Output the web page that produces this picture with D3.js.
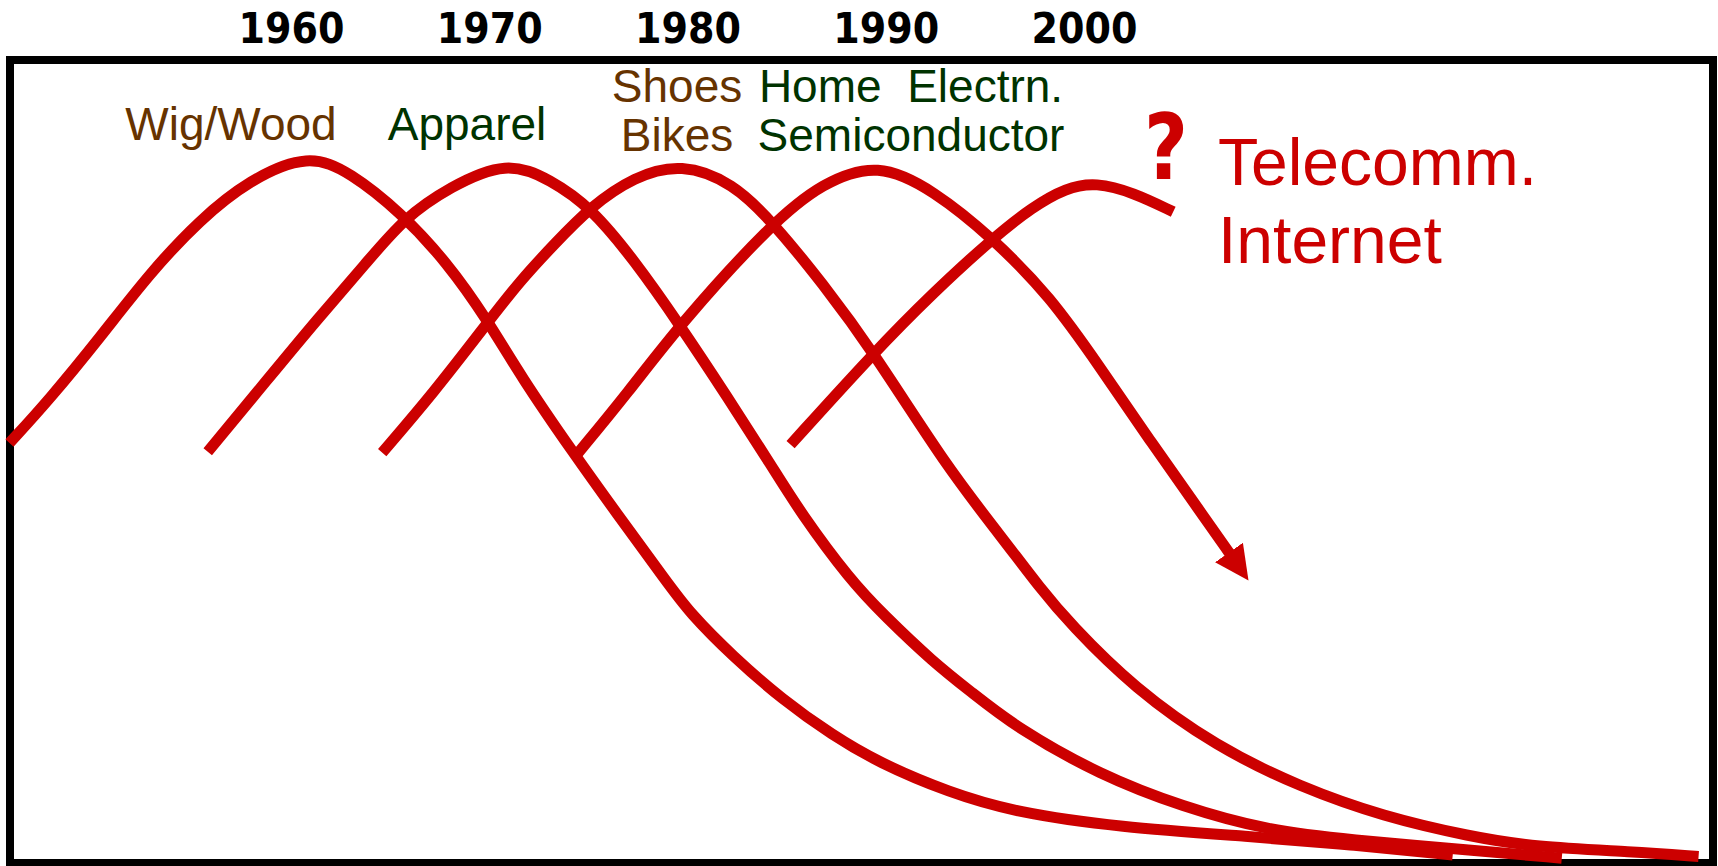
<!DOCTYPE html>
<html>
<head>
<meta charset="utf-8">
<script src="https://cdn.jsdelivr.net/npm/d3@7"></script>
<style>
  html, body { margin: 0; padding: 0; background: #fff; }
  svg { display: block; }
</style>
</head>
<body>
<script>
// decade ticks along the top
const years = [1960, 1970, 1980, 1990, 2000];

// industry life cycles, [year, relative share]
const wigWood = [[1945.8,52.5],[1947.8,57.9],[1950.4,65.8],[1952.9,73.8],[1955.4,80.4],[1957.9,85.4],[1960.9,88.7],[1963.0,86.3],[1965.5,81.4],[1967.9,75.0],[1969.9,67.9],[1971.6,60.8],[1974.2,51.4],[1976.4,43.8],[1979.0,35.0],[1980.1,31.3],[1982.3,25.8],[1984.8,20.4],[1987.3,16.0],[1989.6,12.6],[1993.2,8.8],[1996.6,6.3],[2001.7,4.5],[2008.4,3.3],[2013.4,2.3],[2018.6,1.0]];
const apparel = [[1955.8,51.4],[1958.8,60.4],[1961.3,67.9],[1963.8,75.0],[1965.7,80.6],[1968.0,84.5],[1970.9,87.8],[1973.1,85.4],[1975.1,82.0],[1977.3,75.4],[1979.6,67.3],[1982.0,58.3],[1984.3,49.4],[1985.7,43.8],[1988.2,35.4],[1989.9,31.0],[1992.4,25.1],[1994.3,21.4],[1996.6,16.9],[2000.8,11.0],[2005.0,7.0],[2009.2,4.1],[2013.4,2.9],[2019.5,1.6],[2024.1,0.6]];
const shoesBikes = [[1964.6,51.3],[1967.2,58.8],[1969.9,67.5],[1971.6,72.9],[1973.3,77.4],[1975.1,82.0],[1977.3,85.8],[1979.7,87.5],[1982.3,85.0],[1984.3,80.1],[1986.8,72.5],[1989.4,63.8],[1993.1,49.4],[1995.8,40.9],[1997.8,34.3],[1999.3,29.9],[2002.5,21.9],[2006.7,14.5],[2010.9,9.5],[2015.1,5.8],[2019.5,3.3],[2022.7,2.0],[2027.7,1.4],[2031.0,0.8]];
const homeElec = [[1974.4,51.0],[1977.0,58.8],[1979.6,67.3],[1984.3,80.1],[1986.8,85.0],[1989.6,87.6],[1992.4,84.1],[1995.4,78.1],[1998.3,70.8],[2000.8,62.0],[2003.3,52.9],[2005.9,43.8],[2007.4,38.5]];
const telecom = [[1985.2,52.3],[1989.4,63.8],[1992.4,71.3],[1995.4,78.1],[1997.4,82.0],[1999.1,84.4],[2000.6,85.1],[2002.5,83.8],[2004.5,81.4]];

const width = 1718, height = 866;
const red = "#cc0000", brown = "#663300", green = "#003300";

var svg = d3.select("body").append("svg")
    .attr("width", width)
    .attr("height", height);

var x = d3.scaleLinear().domain([1960, 2000]).range([291, 1084]);
var y = d3.scaleLinear().domain([0, 100]).range([863, 63]);

// frame
svg.append("rect")
    .attr("x", 10).attr("y", 60)
    .attr("width", 1703).attr("height", 803)
    .attr("fill", "none")
    .attr("stroke", "#000")
    .attr("stroke-width", 8);

// year labels
var axis = svg.append("g")
    .attr("transform", "translate(0,43)")
    .call(d3.axisTop(x).tickValues(years).tickFormat(d3.format("d")).tickSize(0).tickPadding(0));
axis.select(".domain").remove();
axis.attr("font-family", "'DejaVu Sans', sans-serif")
    .attr("font-size", 42)
    .attr("font-weight", "bold");
axis.selectAll("text")
    .attr("fill", "#000")
    .attr("dy", 0)
    .attr("textLength", 106)
    .attr("lengthAdjust", "spacingAndGlyphs");

// arrow head for the semiconductor curve
svg.append("defs").append("marker")
    .attr("id", "arrow")
    .attr("markerUnits", "userSpaceOnUse")
    .attr("viewBox", "0 -20 40 40")
    .attr("markerWidth", 40).attr("markerHeight", 40)
    .attr("refX", 3).attr("refY", 0)
    .attr("orient", "auto")
    .append("path")
    .attr("d", "M0,-17L34,0L0,17Z")
    .attr("fill", red);

// basis spline smooths out the hand-read points
var line = d3.line()
    .x(d => x(d[0]))
    .y(d => y(d[1]))
    .curve(d3.curveBasis);

var curves = [wigWood, apparel, shoesBikes, homeElec, telecom];

svg.append("g")
    .selectAll("path")
    .data(curves)
    .enter().append("path")
    .attr("d", line)
    .attr("fill", "none")
    .attr("stroke", red)
    .attr("stroke-width", 11)
    .attr("stroke-linecap", "butt")
    .attr("marker-end", d => d === homeElec ? "url(#arrow)" : null);

// industry labels
function label(lines, cx, y0, dy, color, size, anchor) {
    var t = svg.append("text")
        .attr("font-family", "'Liberation Sans', Arial, sans-serif")
        .attr("font-size", size)
        .attr("fill", color)
        .attr("text-anchor", anchor)
        .style("white-space", "pre");
    lines.forEach((s, i) => {
        t.append("tspan").attr("x", cx).attr("y", y0 + i * dy).text(s);
    });
}

label(["Wig/Wood"], 231, 140, 0, brown, 46, "middle");
label(["Apparel"], 467, 140, 0, green, 46, "middle");
label(["Shoes", "Bikes"], 677, 102, 49, brown, 46, "middle");
label(["Home  Electrn.", "Semiconductor"], 911, 102, 49, green, 46, "middle");
label(["Telecomm.", "Internet"], 1218, 185, 78, red, 66, "start");

svg.append("text")
    .attr("x", 1166).attr("y", 179)
    .attr("text-anchor", "middle")
    .attr("font-family", "'DejaVu Sans', sans-serif")
    .attr("font-weight", "bold")
    .attr("font-size", 90)
    .attr("fill", red)
    .attr("textLength", 44)
    .attr("lengthAdjust", "spacingAndGlyphs")
    .text("?");
</script>
</body>
</html>
